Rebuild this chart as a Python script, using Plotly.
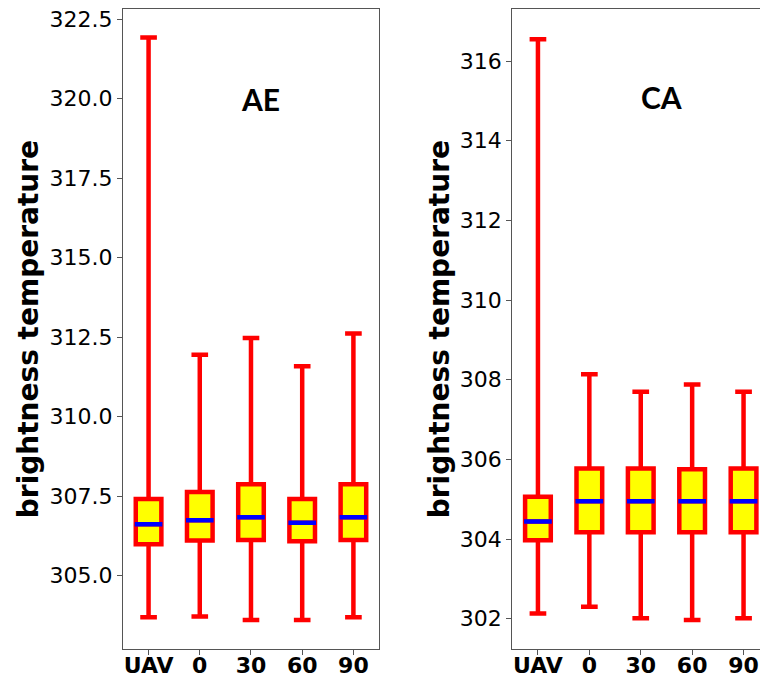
import plotly.graph_objects as go

categories = ["UAV", "0", "30", "60", "90"]

ae_lower = [303.69, 303.71, 303.60, 303.60, 303.69]
ae_q1 = [305.98, 306.10, 306.12, 306.08, 306.12]
ae_median = [306.61, 306.74, 306.83, 306.66, 306.83]
ae_q3 = [307.41, 307.63, 307.87, 307.41, 307.87]
ae_upper = [321.92, 311.94, 312.47, 311.58, 312.61]

ca_lower = [302.13, 302.30, 302.01, 301.97, 302.01]
ca_q1 = [303.97, 304.17, 304.17, 304.17, 304.17]
ca_median = [304.44, 304.95, 304.95, 304.95, 304.95]
ca_q3 = [305.06, 305.77, 305.77, 305.75, 305.77]
ca_upper = [316.55, 308.14, 307.70, 307.88, 307.70]

pos = list(range(1, len(categories) + 1))
LW = 4.5
HALF = 0.27

fig = go.Figure()


def add_panel(lower, q1, med, q3, upper, xa, ya):
    fig.add_trace(go.Box(
        x=pos, q1=q1, median=med, q3=q3, lowerfence=lower, upperfence=upper,
        width=0.5, whiskerwidth=0.65, fillcolor="yellow",
        line=dict(color="red", width=LW), boxpoints=False,
        xaxis=xa, yaxis=ya, showlegend=False, hoverinfo="skip"))
    mx, my = [], []
    for p, m in zip(pos, med):
        mx += [p - HALF, p + HALF, None]
        my += [m, m, None]
    fig.add_trace(go.Scatter(x=mx, y=my, mode="lines",
                             line=dict(color="blue", width=LW),
                             xaxis=xa, yaxis=ya, showlegend=False,
                             hoverinfo="skip"))


add_panel(ae_lower, ae_q1, ae_median, ae_q3, ae_upper, "x", "y")
add_panel(ca_lower, ca_q1, ca_median, ca_q3, ca_upper, "x2", "y2")

tickfont = dict(family="DejaVu Sans", size=22, color="black")
boldtick = dict(family="DejaVu Sans", size=22, color="black", weight="bold")
titlefont = dict(family="DejaVu Sans", size=28, color="black", weight="bold")
axcol = "#555555"

common_x = dict(tickvals=pos, ticktext=categories, tickfont=boldtick,
                showgrid=False, zeroline=False, showline=True, linecolor=axcol,
                linewidth=1, ticks="outside", ticklen=5, tickcolor=axcol,
                automargin=False, ticklabelstandoff=-8)
common_y = dict(showgrid=False, zeroline=False, showline=True, linecolor=axcol,
                linewidth=1, ticks="outside", ticklen=5, tickcolor=axcol,
                tickfont=tickfont, automargin=False,
                title=dict(text="brightness temperature", font=titlefont,
                           standoff=2))

fig.update_layout(
    width=760, height=677,
    margin=dict(l=0, r=0, t=0, b=0, autoexpand=False),
    plot_bgcolor="white", paper_bgcolor="white",
    xaxis=dict(domain=[0.1618, 0.4987], range=[0.5, 5.5], mirror=True,
               anchor="y", **common_x),
    yaxis=dict(domain=[0.0414, 0.9863], range=[302.69, 322.81], dtick=2.5,
               tickformat=".1f", mirror=True, anchor="x", **common_y),
    xaxis2=dict(domain=[0.674, 1.0], range=[0.5, 5.32], mirror=True,
                anchor="y2", **common_x),
    yaxis2=dict(domain=[0.0414, 0.9863], range=[301.24, 317.3], dtick=2,
                tickformat="d", mirror=False, anchor="x2", **common_y),
    annotations=[
        dict(text="AE", x=3.19, y=320.0, xref="x", yref="y", showarrow=False,
             font=dict(family="Lato", size=30, color="black", weight="bold")),
        dict(text="CA", x=3.41, y=315.1, xref="x2", yref="y2", showarrow=False,
             font=dict(family="Lato", size=30, color="black", weight="bold")),
    ],
)

fig.write_html("out.html", config={"displayModeBar": False},
               post_script="document.body.style.margin='0';"
                           "document.body.style.overflow='hidden';")
